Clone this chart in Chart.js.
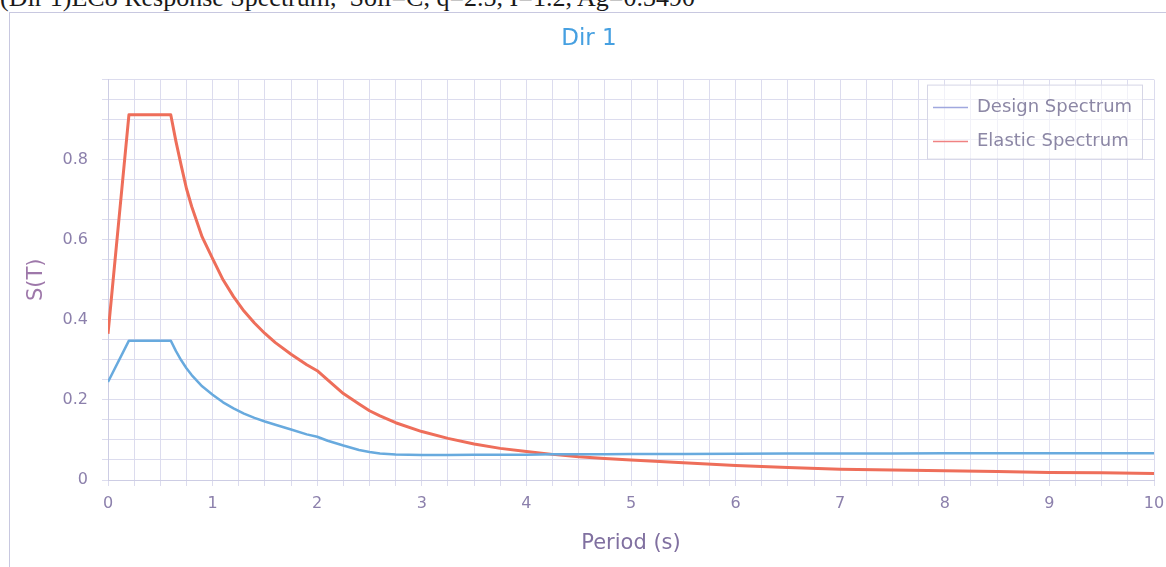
<!DOCTYPE html>
<html><head><meta charset="utf-8">
<script src="https://cdn.jsdelivr.net/npm/chart.js@4.4.1/dist/chart.umd.min.js"></script>
<style>
html,body{margin:0;padding:0;background:#fff;overflow:hidden;}
#wrap{position:relative;width:1166px;height:567px;overflow:hidden;background:#fff;}
#caption{position:absolute;left:0;top:-15px;font-family:"Liberation Serif",serif;font-size:26px;color:#1a1a1a;white-space:pre;line-height:26px;}
#frame{position:absolute;left:9px;top:12px;width:1200px;height:600px;border:1px solid rgb(200,200,224);box-sizing:border-box;}
canvas{position:absolute;left:0;top:0;}
</style></head>
<body>
<div id="wrap">
<div id="caption">(Dir 1)EC8 Response Spectrum,  Soil=C, q=2.5, I=1.2, Ag=0.3490</div>
<div id="frame"></div>
<canvas id="c" width="1166" height="567"></canvas>
</div>
<script>
// Period (s)
const periods = [0, 0.2, 0.6, 0.65, 0.7, 0.75, 0.8, 0.9, 1.0, 1.1, 1.2, 1.3, 1.4, 1.5, 1.6, 1.75, 1.9, 2.0, 2.1, 2.25, 2.4, 2.5, 2.6, 2.75, 3.0, 3.25, 3.5, 3.75, 4.0, 4.25, 4.5, 4.75, 5, 5.5, 6, 6.5, 7, 7.5, 8, 8.5, 9, 9.5, 10];
// S(T) values
const designSpectrum = [0.245, 0.348, 0.348, 0.322, 0.299, 0.279, 0.262, 0.234, 0.213, 0.194, 0.179, 0.166, 0.155, 0.146, 0.138, 0.126, 0.114, 0.108, 0.098, 0.086, 0.075, 0.070, 0.066, 0.0635, 0.0625, 0.0625, 0.063, 0.063, 0.063, 0.064, 0.064, 0.064, 0.065, 0.065, 0.0655, 0.066, 0.066, 0.066, 0.0665, 0.0665, 0.067, 0.067, 0.067];
const elasticSpectrum = [0.365, 0.912, 0.912, 0.845, 0.785, 0.728, 0.683, 0.607, 0.553, 0.500, 0.458, 0.422, 0.392, 0.366, 0.343, 0.314, 0.288, 0.273, 0.250, 0.216, 0.190, 0.173, 0.160, 0.143, 0.121, 0.104, 0.090, 0.079, 0.071, 0.064, 0.058, 0.054, 0.050, 0.043, 0.036, 0.031, 0.027, 0.025, 0.023, 0.021, 0.019, 0.018, 0.016];
const seriesNames = ['Design Spectrum', 'Elastic Spectrum'];
const xTickLabels = ['0','1','2','3','4','5','6','7','8','9','10'];
const yTickLabels = ['0','0.2','0.4','0.6','0.8'];

const gridColor = 'rgb(220,220,238)';
const tickFontColor = 'rgb(140,128,172)';

const boxLegend = {
  id: 'boxLegend',
  afterDraw(chart) {
    const {ctx, chartArea} = chart;
    const w = 215, h = 74;
    const left = chartArea.right - 12 - w, top = chartArea.top + 5;
    ctx.save();
    ctx.fillStyle = 'rgba(255,255,255,0.6)';
    ctx.fillRect(left, top, w, h);
    ctx.strokeStyle = 'rgb(214,214,230)';
    ctx.lineWidth = 1;
    ctx.strokeRect(left + 0.5, top + 0.5, w, h);
    chart.data.datasets.forEach((ds, i) => {
      const y = top + 23 + i * 34;
      ctx.strokeStyle = ds.legendColor;
      ctx.lineWidth = 1.5;
      ctx.beginPath(); ctx.moveTo(left + 6, y); ctx.lineTo(left + 41, y); ctx.stroke();
      ctx.fillStyle = 'rgb(140,135,165)';
      ctx.font = '18px "DejaVu Sans"';
      ctx.textBaseline = 'middle';
      ctx.textAlign = 'left';
      ctx.fillText(ds.label, left + 50, y);
    });
    ctx.restore();
  }
};

new Chart(document.getElementById('c'), {
  type: 'line',
  data: {
    datasets: [
      {
        label: seriesNames[0],
        data: periods.map((p, i) => ({x: p, y: designSpectrum[i]})),
        borderColor: 'rgb(104,170,222)',
        legendColor: 'rgb(160,168,222)',
        borderWidth: 2.5,
        pointRadius: 0,
        tension: 0,
        borderJoinStyle: 'round',
        fill: false
      },
      {
        label: seriesNames[1],
        data: periods.map((p, i) => ({x: p, y: elasticSpectrum[i]})),
        borderColor: 'rgb(238,110,90)',
        legendColor: 'rgb(240,130,130)',
        borderWidth: 3,
        pointRadius: 0,
        tension: 0,
        borderJoinStyle: 'round',
        fill: false
      }
    ]
  },
  options: {
    responsive: false,
    animation: false,
    devicePixelRatio: 1,
    layout: {padding: {left: 24, right: 12, top: 0, bottom: 0}},
    plugins: {
      legend: {display: false},
      tooltip: {enabled: false},
      title: {
        display: true,
        text: 'Dir 1',
        color: 'rgb(70,160,225)',
        font: {family: 'DejaVu Sans', size: 23, weight: 'normal'},
        padding: {top: 25, bottom: 27}
      }
    },
    scales: {
      x: {
        type: 'linear',
        min: 0, max: 10,
        afterFit: s => { s.height = 87; s.paddingLeft = 0; s.paddingRight = 0; },
        ticks: {
          stepSize: 0.25,
          autoSkip: false,
          maxRotation: 0,
          padding: 8,
          color: tickFontColor,
          font: {family: 'DejaVu Sans', size: 16},
          callback: v => {
            const r = Math.round(v);
            return Math.abs(v - r) < 1e-6 ? xTickLabels[r] : '';
          }
        },
        grid: {color: gridColor, tickLength: 6, tickColor: gridColor},
        border: {color: 'rgb(205,205,228)'},
        title: {
          display: true,
          text: 'Period (s)',
          color: 'rgb(128,112,160)',
          font: {family: 'DejaVu Sans', size: 21},
          padding: {top: 4, bottom: 11}
        }
      },
      y: {
        min: 0, max: 1,
        afterFit: s => { s.width = 84; },
        ticks: {
          stepSize: 0.05,
          autoSkip: false,
          padding: 14,
          color: tickFontColor,
          font: {family: 'DejaVu Sans', size: 16},
          callback: v => {
            const k = Math.round(v / 0.2);
            return (Math.abs(v - k * 0.2) < 1e-6 && k < yTickLabels.length) ? yTickLabels[k] : '';
          }
        },
        grid: {color: gridColor, tickLength: 6, tickColor: gridColor},
        border: {color: 'rgb(205,205,228)'},
        title: {
          display: true,
          text: 'S(T)',
          color: 'rgb(158,120,170)',
          font: {family: 'DejaVu Sans', size: 21},
          padding: {top: 0, bottom: 0}
        }
      }
    }
  },
  plugins: [boxLegend]
});
</script>
</body></html>
